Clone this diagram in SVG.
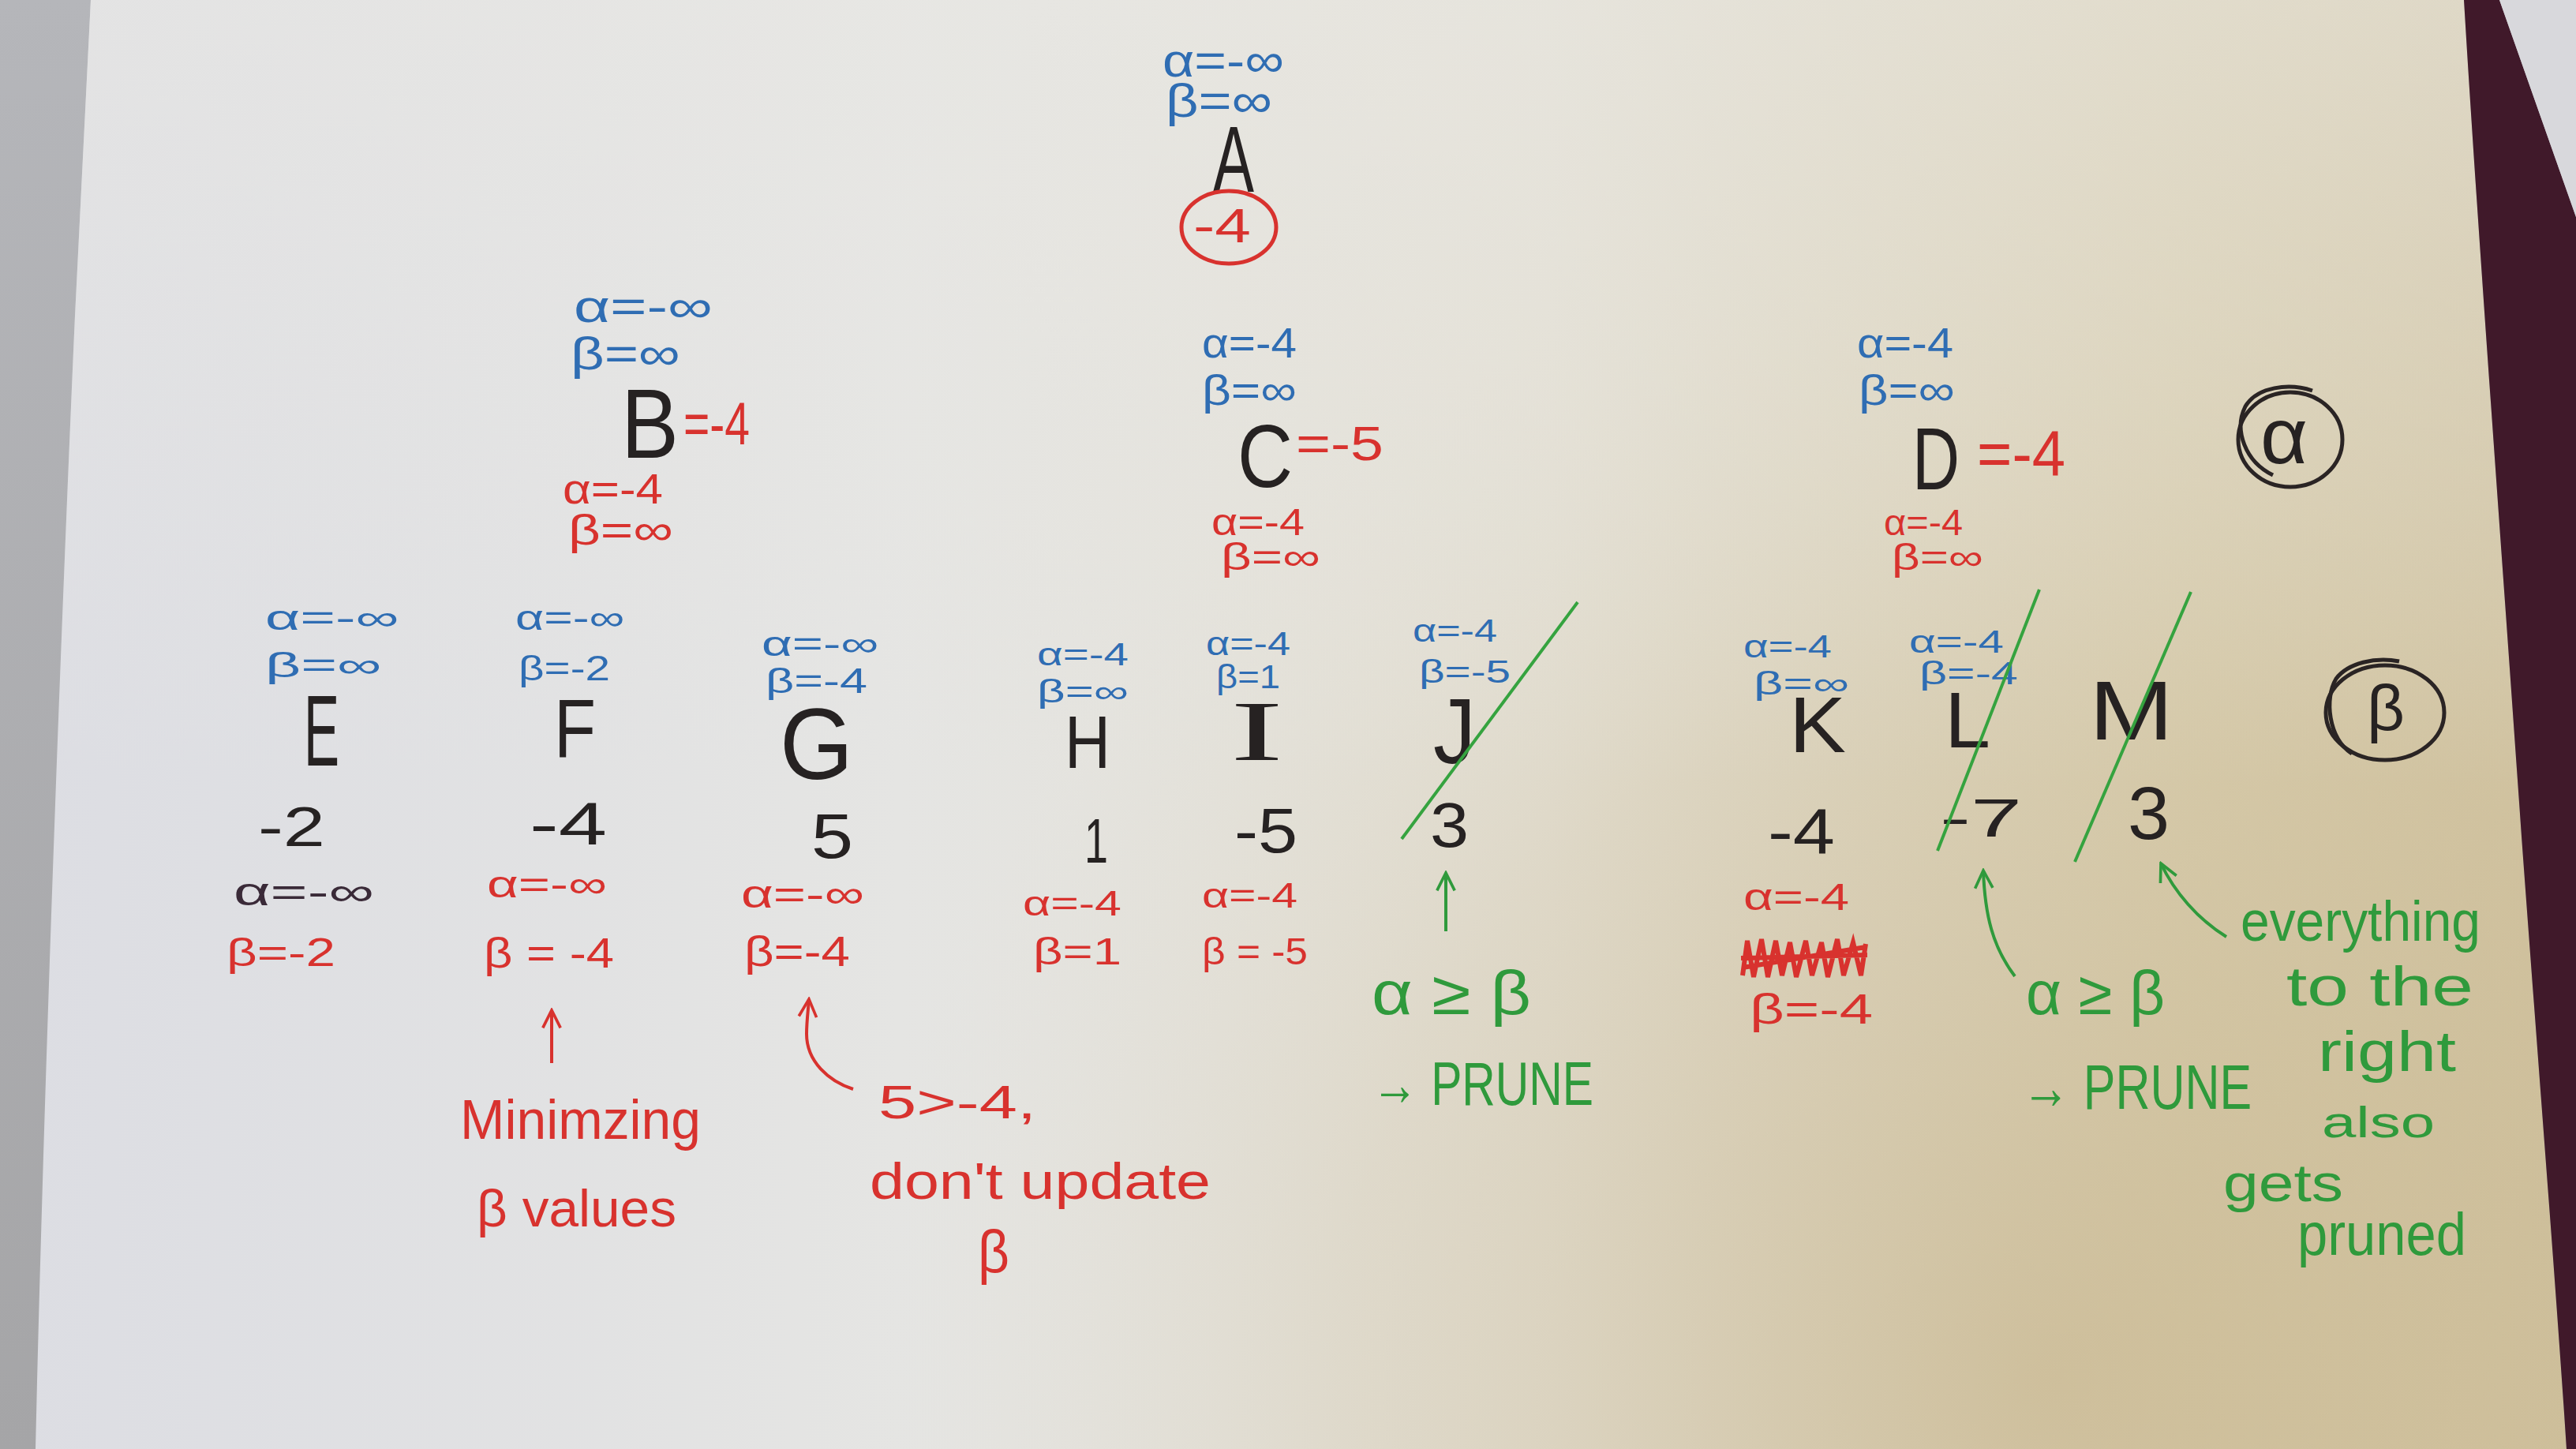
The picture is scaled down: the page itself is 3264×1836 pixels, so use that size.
<svg xmlns="http://www.w3.org/2000/svg" width="3264" height="1836" viewBox="0 0 3264 1836">
<defs>
<linearGradient id="paper" gradientUnits="userSpaceOnUse" x1="0" y1="0" x2="3264" y2="0">
<stop offset="0" stop-color="#dcdde3"/>
<stop offset="0.35" stop-color="#e5e5e3"/>
<stop offset="0.6" stop-color="#e3dfd3"/>
<stop offset="0.85" stop-color="#d8cdae"/>
<stop offset="1" stop-color="#d0c29f"/>
</linearGradient>
<radialGradient id="tan" gradientUnits="userSpaceOnUse" cx="2600" cy="1750" r="1500">
<stop offset="0" stop-color="#bfa97c" stop-opacity="0.45"/>
<stop offset="0.6" stop-color="#c8b690" stop-opacity="0.18"/>
<stop offset="1" stop-color="#e0dccf" stop-opacity="0"/>
</radialGradient>
<linearGradient id="toplight" gradientUnits="userSpaceOnUse" x1="0" y1="0" x2="0" y2="1000">
<stop offset="0" stop-color="#e9e8e4" stop-opacity="0.55"/>
<stop offset="1" stop-color="#e9e8e4" stop-opacity="0"/>
</linearGradient>
<linearGradient id="leftgray" x1="0" y1="0" x2="0" y2="1">
<stop offset="0" stop-color="#b5b6ba"/>
<stop offset="1" stop-color="#a5a5a7"/>
</linearGradient>
<marker id="ag" viewBox="0 0 20 20" refX="18" refY="10" markerWidth="28" markerHeight="28" markerUnits="userSpaceOnUse" orient="auto">
<path d="M2,2 L18,10 L2,18" fill="none" stroke="#2f9a3c" stroke-width="2.6"/>
</marker>
<marker id="ar" viewBox="0 0 20 20" refX="18" refY="10" markerWidth="28" markerHeight="28" markerUnits="userSpaceOnUse" orient="auto">
<path d="M2,2 L18,10 L2,18" fill="none" stroke="#d8322e" stroke-width="2.6"/>
</marker>
<path id="sheet" d="M115,0 L3122,0 C3140,300 3170,700 3195,1060 C3220,1400 3240,1650 3252,1836 L45,1836 C55,1400 75,850 95,400 Z"/>
</defs>
<style>
text{font-family:"Liberation Sans","DejaVu Sans",sans-serif;}
.b{fill:#2f6db3;}
.r{fill:#d8322e;}
.k{fill:#262222;}
.p{fill:#3a2a38;}
.g{fill:#2f9a3c;}
.slash{stroke:#35a33f;stroke-width:4;fill:none;}
.ga{stroke:#2f9a3c;stroke-width:4;fill:none;marker-end:url(#ag);}
.ra{stroke:#d8322e;stroke-width:4;fill:none;marker-end:url(#ar);}
.ring{fill:none;stroke:#2a2424;stroke-width:5;}
</style>
<rect x="0" y="0" width="3264" height="1836" fill="url(#leftgray)"/>
<use href="#sheet" fill="url(#paper)"/>
<use href="#sheet" fill="url(#tan)"/>
<use href="#sheet" fill="url(#toplight)"/>
<path d="M3122,0 L3167,0 L3264,275 L3264,1836 L3252,1836 C3240,1650 3220,1400 3195,1060 C3170,700 3140,300 3122,0 Z" fill="#40192a"/>
<path d="M3167,0 L3264,0 L3264,275 Z" fill="#d8d8dc"/>

<g id="node-A">
<text class="b" x="1473" y="97" font-size="60" textLength="154" lengthAdjust="spacingAndGlyphs">α=-∞</text>
<text class="b" x="1477" y="148" font-size="60" textLength="135" lengthAdjust="spacingAndGlyphs">β=∞</text>
<text class="k" x="1537" y="243" font-size="118" textLength="52" lengthAdjust="spacingAndGlyphs">A</text>
<ellipse cx="1557" cy="288" rx="60" ry="46" fill="none" stroke="#d8322e" stroke-width="5"/>
<text class="r" x="1512" y="307" font-size="62" textLength="73" lengthAdjust="spacingAndGlyphs">-4</text>
</g>

<g id="node-B">
<text class="b" x="727" y="408" font-size="58" textLength="176" lengthAdjust="spacingAndGlyphs">α=-∞</text>
<text class="b" x="723" y="468" font-size="58" textLength="139" lengthAdjust="spacingAndGlyphs">β=∞</text>
<text class="k" x="787" y="580" font-size="124" textLength="73" lengthAdjust="spacingAndGlyphs">B</text>
<text class="r" x="866" y="563" font-size="76" textLength="84" lengthAdjust="spacingAndGlyphs">=-4</text>
<text class="r" x="713" y="638" font-size="54" textLength="127" lengthAdjust="spacingAndGlyphs">α=-4</text>
<text class="r" x="720" y="690" font-size="54" textLength="133" lengthAdjust="spacingAndGlyphs">β=∞</text>
</g>

<g id="node-C">
<text class="b" x="1523" y="453" font-size="54" textLength="120" lengthAdjust="spacingAndGlyphs">α=-4</text>
<text class="b" x="1523" y="513" font-size="54" textLength="120" lengthAdjust="spacingAndGlyphs">β=∞</text>
<text class="k" x="1568" y="617" font-size="114" textLength="70" lengthAdjust="spacingAndGlyphs">C</text>
<text class="r" x="1642" y="583" font-size="62" textLength="111" lengthAdjust="spacingAndGlyphs">=-5</text>
<text class="r" x="1535" y="678" font-size="48" textLength="118" lengthAdjust="spacingAndGlyphs">α=-4</text>
<text class="r" x="1547" y="722" font-size="48" textLength="126" lengthAdjust="spacingAndGlyphs">β=∞</text>
</g>

<g id="node-D">
<text class="b" x="2353" y="453" font-size="54" textLength="122" lengthAdjust="spacingAndGlyphs">α=-4</text>
<text class="b" x="2355" y="513" font-size="54" textLength="122" lengthAdjust="spacingAndGlyphs">β=∞</text>
<text class="k" x="2423" y="620" font-size="112" textLength="60" lengthAdjust="spacingAndGlyphs">D</text>
<text class="r" x="2505" y="603" font-size="82" textLength="112" lengthAdjust="spacingAndGlyphs">=-4</text>
<text class="r" x="2387" y="678" font-size="46" textLength="100" lengthAdjust="spacingAndGlyphs">α=-4</text>
<text class="r" x="2397" y="722" font-size="46" textLength="116" lengthAdjust="spacingAndGlyphs">β=∞</text>
</g>

<g id="legend-alpha">
<ellipse class="ring" cx="2902" cy="557" rx="66" ry="60"/>
<path class="ring" d="M2880,602 C2845,585 2830,545 2845,515 C2860,490 2900,485 2930,495" stroke-width="3.5"/>
<text class="k" x="2864" y="587" font-size="100" textLength="60" lengthAdjust="spacingAndGlyphs">α</text>
</g>

<g id="legend-beta">
<ellipse class="ring" cx="3022" cy="903" rx="75" ry="60"/>
<path class="ring" d="M2980,955 C2950,935 2945,885 2960,860 C2975,840 3010,832 3040,838" stroke-width="3.5"/>
<text class="k" x="2999" y="925" font-size="82" textLength="48" lengthAdjust="spacingAndGlyphs">β</text>
</g>

<g id="node-E">
<text class="b" x="336" y="798" font-size="44" textLength="169" lengthAdjust="spacingAndGlyphs">α=-∞</text>
<text class="b" x="336" y="858" font-size="44" textLength="147" lengthAdjust="spacingAndGlyphs">β=∞</text>
<text class="k" x="385" y="970" font-size="128" textLength="45" lengthAdjust="spacingAndGlyphs">E</text>
<text class="k" x="327" y="1072" font-size="70" textLength="85" lengthAdjust="spacingAndGlyphs">-2</text>
<text class="p" x="296" y="1147" font-size="50" textLength="178" lengthAdjust="spacingAndGlyphs">α=-∞</text>
<text class="r" x="287" y="1224" font-size="50" textLength="138" lengthAdjust="spacingAndGlyphs">β=-2</text>
</g>

<g id="node-F">
<text class="b" x="653" y="798" font-size="44" textLength="138" lengthAdjust="spacingAndGlyphs">α=-∞</text>
<text class="b" x="657" y="862" font-size="44" textLength="116" lengthAdjust="spacingAndGlyphs">β=-2</text>
<text class="k" x="702" y="960" font-size="106" textLength="53" lengthAdjust="spacingAndGlyphs">F</text>
<text class="k" x="671" y="1070" font-size="76" textLength="98" lengthAdjust="spacingAndGlyphs">-4</text>
<text class="r" x="617" y="1137" font-size="48" textLength="152" lengthAdjust="spacingAndGlyphs">α=-∞</text>
<text class="r" x="613" y="1226" font-size="54" textLength="165" lengthAdjust="spacingAndGlyphs">β = -4</text>
</g>

<g id="node-G">
<text class="b" x="965" y="831" font-size="44" textLength="148" lengthAdjust="spacingAndGlyphs">α=-∞</text>
<text class="b" x="970" y="878" font-size="44" textLength="129" lengthAdjust="spacingAndGlyphs">β=-4</text>
<text class="k" x="988" y="987" font-size="128" textLength="93" lengthAdjust="spacingAndGlyphs">G</text>
<text class="k" x="1028" y="1087" font-size="80" textLength="53" lengthAdjust="spacingAndGlyphs">5</text>
<text class="r" x="939" y="1150" font-size="50" textLength="156" lengthAdjust="spacingAndGlyphs">α=-∞</text>
<text class="r" x="943" y="1224" font-size="54" textLength="134" lengthAdjust="spacingAndGlyphs">β=-4</text>
</g>

<g id="node-H">
<text class="b" x="1314" y="843" font-size="40" textLength="116" lengthAdjust="spacingAndGlyphs">α=-4</text>
<text class="b" x="1314" y="890" font-size="40" textLength="116" lengthAdjust="spacingAndGlyphs">β=∞</text>
<text class="k" x="1349" y="973" font-size="94" textLength="58" lengthAdjust="spacingAndGlyphs">H</text>
<text class="k" x="1374" y="1093" font-size="80" textLength="30" lengthAdjust="spacingAndGlyphs">1</text>
<text class="r" x="1296" y="1160" font-size="44" textLength="125" lengthAdjust="spacingAndGlyphs">α=-4</text>
<text class="r" x="1309" y="1222" font-size="48" textLength="112" lengthAdjust="spacingAndGlyphs">β=1</text>
</g>

<g id="node-I">
<text class="b" x="1528" y="830" font-size="42" textLength="107" lengthAdjust="spacingAndGlyphs">α=-4</text>
<text class="b" x="1541" y="872" font-size="42" textLength="81" lengthAdjust="spacingAndGlyphs">β=1</text>
<text class="k" x="1559" y="963" font-size="108" textLength="67" lengthAdjust="spacingAndGlyphs" style="font-family:'Liberation Serif',serif">I</text>
<text class="k" x="1564" y="1080" font-size="80" textLength="80" lengthAdjust="spacingAndGlyphs">-5</text>
<text class="r" x="1523" y="1150" font-size="44" textLength="121" lengthAdjust="spacingAndGlyphs">α=-4</text>
<text class="r" x="1523" y="1222" font-size="48" textLength="134" lengthAdjust="spacingAndGlyphs">β = -5</text>
</g>

<g id="node-J">
<text class="b" x="1790" y="813" font-size="40" textLength="107" lengthAdjust="spacingAndGlyphs">α=-4</text>
<text class="b" x="1798" y="865" font-size="40" textLength="116" lengthAdjust="spacingAndGlyphs">β=-5</text>
<text class="k" x="1816" y="967" font-size="116" textLength="54" lengthAdjust="spacingAndGlyphs">J</text>
<text class="k" x="1812" y="1073" font-size="80" textLength="49" lengthAdjust="spacingAndGlyphs">3</text>
<line class="slash" x1="1999" y1="763" x2="1776" y2="1063"/>
</g>

<g id="node-K">
<text class="b" x="2209" y="833" font-size="40" textLength="112" lengthAdjust="spacingAndGlyphs">α=-4</text>
<text class="b" x="2222" y="880" font-size="40" textLength="121" lengthAdjust="spacingAndGlyphs">β=∞</text>
<text class="k" x="2267" y="953" font-size="100" textLength="72" lengthAdjust="spacingAndGlyphs">K</text>
<text class="k" x="2240" y="1082" font-size="82" textLength="85" lengthAdjust="spacingAndGlyphs">-4</text>
<text class="r" x="2209" y="1153" font-size="48" textLength="134" lengthAdjust="spacingAndGlyphs">α=-4</text>
<path d="M2208,1236 L2214,1192 L2222,1238 L2232,1190 L2240,1238 L2250,1192 L2258,1236 L2268,1194 L2276,1238 L2288,1192 L2296,1236 L2308,1194 L2316,1238 L2328,1190 L2336,1236 L2348,1194 L2358,1236 L2364,1196 M2206,1214 L2366,1210 M2208,1226 L2364,1200" fill="none" stroke="#d8322e" stroke-width="6"/>
<text class="r" x="2217" y="1297" font-size="54" textLength="156" lengthAdjust="spacingAndGlyphs">β=-4</text>
</g>

<g id="node-L">
<text class="b" x="2419" y="827" font-size="40" textLength="120" lengthAdjust="spacingAndGlyphs">α=-4</text>
<text class="b" x="2432" y="867" font-size="40" textLength="125" lengthAdjust="spacingAndGlyphs">β=-4</text>
<text class="k" x="2464" y="947" font-size="100" textLength="58" lengthAdjust="spacingAndGlyphs">L</text>
<text class="k" x="2458" y="1060" font-size="68" textLength="104" lengthAdjust="spacingAndGlyphs">-7</text>
<line class="slash" x1="2584" y1="747" x2="2455" y2="1078"/>
</g>

<g id="node-M">
<text class="k" x="2647" y="937" font-size="106" textLength="107" lengthAdjust="spacingAndGlyphs">M</text>
<text class="k" x="2696" y="1063" font-size="94" textLength="53" lengthAdjust="spacingAndGlyphs">3</text>
<line class="slash" x1="2776" y1="750" x2="2629" y2="1092"/>
</g>

<g id="connectors">
<path class="ra" d="M699,1347 L699,1280"/>
<path class="ra" d="M1081,1380 C1050,1370 1022,1345 1022,1310 C1022,1295 1024,1280 1025,1266"/>
<path class="ga" d="M1832,1180 L1832,1106"/>
<path class="ga" d="M2553,1237 C2525,1200 2515,1160 2513,1103"/>
<path class="ga" d="M2821,1187 C2785,1165 2755,1130 2738,1094"/>
</g>

<g id="notes">
<text class="r" x="583" y="1443" font-size="70" textLength="305" lengthAdjust="spacingAndGlyphs">Minimzing</text>
<text class="r" x="604" y="1554" font-size="66" textLength="253" lengthAdjust="spacingAndGlyphs">β values</text>
<text class="r" x="1113" y="1417" font-size="60" textLength="200" lengthAdjust="spacingAndGlyphs">5&gt;-4,</text>
<text class="r" x="1102" y="1519" font-size="64" textLength="432" lengthAdjust="spacingAndGlyphs">don't update</text>
<text class="r" x="1239" y="1612" font-size="76" textLength="40" lengthAdjust="spacingAndGlyphs">β</text>
<text class="g" x="1738" y="1285" font-size="78" textLength="202" lengthAdjust="spacingAndGlyphs">α ≥ β</text>
<text class="g" x="1738" y="1400" font-size="78" textLength="281" lengthAdjust="spacingAndGlyphs">→ PRUNE</text>
<text class="g" x="2567" y="1285" font-size="78" textLength="176" lengthAdjust="spacingAndGlyphs">α ≥ β</text>
<text class="g" x="2562" y="1405" font-size="80" textLength="291" lengthAdjust="spacingAndGlyphs">→ PRUNE</text>
<text class="g" x="2839" y="1192" font-size="72" textLength="304" lengthAdjust="spacingAndGlyphs">everything</text>
<text class="g" x="2897" y="1274" font-size="70" textLength="237" lengthAdjust="spacingAndGlyphs">to the</text>
<text class="g" x="2937" y="1357" font-size="72" textLength="175" lengthAdjust="spacingAndGlyphs">right</text>
<text class="g" x="2942" y="1441" font-size="56" textLength="143" lengthAdjust="spacingAndGlyphs">also</text>
<text class="g" x="2817" y="1522" font-size="66" textLength="152" lengthAdjust="spacingAndGlyphs">gets</text>
<text class="g" x="2911" y="1590" font-size="76" textLength="214" lengthAdjust="spacingAndGlyphs">pruned</text>
</g>
</svg>
